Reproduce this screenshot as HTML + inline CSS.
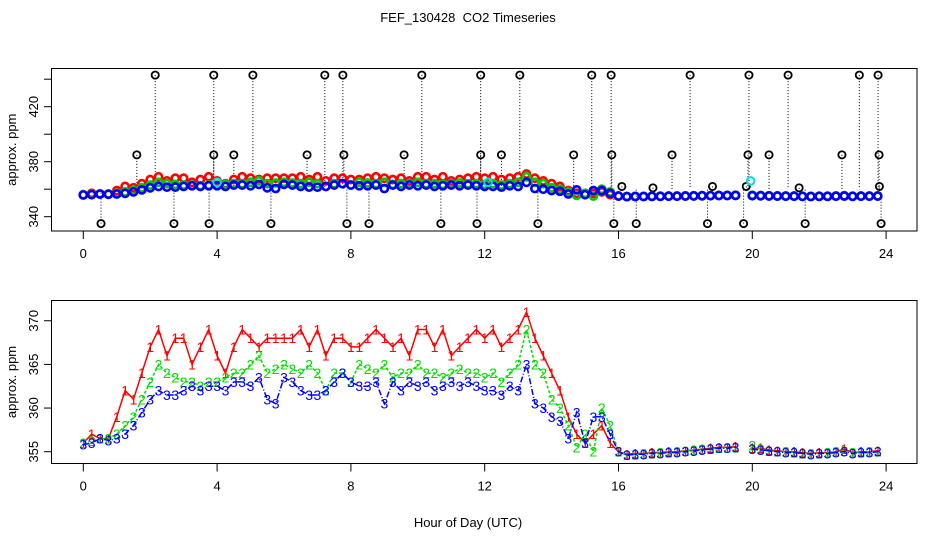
<!DOCTYPE html>
<html><head><meta charset="utf-8"><style>
body{margin:0;background:#fff}
svg{display:block;font-family:"Liberation Sans",sans-serif}
</style></head><body>
<svg id="c" width="936" height="540" viewBox="0 0 936 540">
<rect width="936" height="540" fill="#fff"/>
<text x="468" y="22" text-anchor="middle" font-size="13" style="white-space:pre">FEF_130428  CO2 Timeseries</text>
<text x="468" y="527" text-anchor="middle" font-size="13">Hour of Day (UTC)</text>
<g id="topPanel"></g>
<g id="botPanel"></g>
</svg>
<script>
const s1Head=[356,357,356.5,356.5,359,362,361,364,367,369,366,368,368,365,367,369,366,364,367,369,368,367,368,368,368,368,369,367,369,366,368,368,367,367,368,369,368,367,368,366,369,369,367,369,366,367,368,369,368,369,367,368,369,371,368,366,364,362,359,357,356,357,358,356,355];
const s2Head=[356,356.2,356.5,356.5,357,358,359,361,363,365,364,363.5,363,363,362.5,363,363,363.5,364,364,365,366,364,364.5,365,364.5,364,365,364,362,364,364,363,365,364.5,364,365,363.5,364,364,365,364,364,363.5,364,364.5,364,364,363.5,364,363,364,365,369,365,364,361,360,358,355.5,357,355,360,358,355];
const s3Head=[355.8,356,356.5,356.3,356.5,357,358,359.5,361,362,361.5,361.5,362,362.5,362,362.5,362.5,362,363,363,362.5,363.5,361,360.5,363.5,363,362,361.5,361.5,362,363,364,363,362.5,362.5,363,360.5,363,362,363,362.5,363,362,362.5,363,362.5,363,362.5,362,362,361.5,362.5,362,365,360.5,360,359,358.5,356.5,359.5,356,359,359,357,355];
const s1Tail=[354.7,354.8,354.8,354.9,354.9,355,355,355.1,355.2,355.3,355.4,355.5,355.5,355.6,null,355.4,355.4,355.2,355.1,355,355,354.9,354.8,354.9,354.9,355,355.3,354.9,355,355,355.1];
const s2Tail=[354.6,354.7,354.8,354.8,354.9,354.9,355,355.1,355.2,355.3,355.3,355.4,355.5,355.5,null,355.7,355.3,355.1,355,355,354.9,354.8,354.8,354.8,354.9,355,355.1,354.9,354.9,355,355];
const s3Tail=[354.6,354.7,354.7,354.8,354.8,354.9,354.9,355,355.1,355.2,355.3,355.4,355.4,355.5,null,355.3,355.2,355.1,355,354.9,354.9,354.8,354.7,354.8,354.8,354.9,355,354.8,354.9,354.9,355];
const outlierHours=[2.15,3.9,5.07,7.22,7.76,10.12,11.88,13.05,15.2,15.78,18.14,19.9,21.07,23.2,23.76,1.6,3.9,4.5,6.69,7.79,9.59,11.88,12.5,14.66,15.8,17.6,19.87,20.5,22.68,23.79,0.53,2.71,3.76,5.61,7.88,8.54,10.69,11.77,13.59,15.86,16.53,18.66,19.74,21.58,23.85,16.1,17.03,18.81,19.82,21.4,23.8];
const outlierValues=[443,443,443,443,443,443,443,443,443,443,443,443,443,443,443,385,385,385,385,385,385,385,385,385,385,385,385,385,385,385,335,335,335,335,335,335,335,335,335,335,335,335,335,335,335,362,361,362,362,361,362];
const cyanHours=[4.0,12.1,19.95];
const cyanValues=[365,365,366];
const xTicks=[0,4,8,12,16,20,24];
const topTicks=[340,360,380,400,420,440];
const topTickLabels=["340","","380","","420",""];
const botTicks=[355,360,365,370];
const botTickLabels=["355","360","365","370"];

const hours=[];for(let h=0;h<=16.0001;h+=0.25)hours.push(h);for(let h=16.25;h<=23.7501;h+=0.25)hours.push(h);
const S1=s1Head.concat(s1Tail),S2=s2Head.concat(s2Tail),S3=s3Head.concat(s3Tail);
const NS="http://www.w3.org/2000/svg";
function mk(p,t,a){const e=document.createElementNS(NS,t);for(const k in a)e.setAttribute(k,a[k]);p.appendChild(e);return e;}
const X=h=>83.3+h*33.45;
const Yt=v=>216.7-(v-340)*1.375;
const Yb=v=>451.7-(v-355)*8.73;
const topG=document.getElementById('topPanel'),botG=document.getElementById('botPanel');

function frame(g,y0,y1,yTicks,yLabels,Y,name){
  const b=mk(g,'rect',{x:51.5,y:y0,width:865.5,height:y1-y0,fill:'none',stroke:'#000','stroke-width':1});
  
  
  mk(g,'line',{x1:X(0),x2:X(24),y1:y1,y2:y1,stroke:'#000'});
  xTicks.forEach(t=>{
    mk(g,'line',{x1:X(t),x2:X(t),y1:y1,y2:y1+8,stroke:'#000'});
    const tx=mk(g,'text',{x:X(t),y:y1+27,'text-anchor':'middle','font-size':13});
    tx.textContent=t;
    
    
  });
  yTicks.forEach((t,i)=>{
    mk(g,'line',{x1:44,x2:51.5,y1:Y(t),y2:Y(t),stroke:'#000'});
    if(yLabels[i]){
      const tx=mk(g,'text',{x:0,y:0,'text-anchor':'middle','font-size':13,transform:`translate(38,${Y(t)}) rotate(-90)`});
      tx.textContent=yLabels[i];
      
      
    }
  });
  const yl=mk(g,'text',{x:0,y:0,'text-anchor':'middle','font-size':13,transform:`translate(16,${(y0+y1)/2}) rotate(-90)`});
  yl.textContent='approx. ppm';
  
  
}
frame(topG,68.5,231,topTicks,topTickLabels,Yt,'top');
frame(botG,300.5,463.5,botTicks,botTickLabels,Yb,'bottom');

outlierHours.forEach((h,i)=>{
  const v=outlierValues[i];
  mk(topG,'line',{x1:X(h),x2:X(h),y1:Yt(v),y2:Yt(360),stroke:'#000','stroke-dasharray':'1,2'});
  const c=mk(topG,'circle',{cx:X(h),cy:Yt(v),r:3.6,fill:'none',stroke:'#000','stroke-width':1.8});
  
  
});
[[S1,'#ff0000'],[S2,'#00cc00'],[S3,'#0000ff']].forEach(([s,col],k)=>{
  const g=mk(topG,'g',{});
  
  
  s.forEach((v,i)=>{
    if(v==null)return;
    const c=mk(g,'circle',{cx:X(hours[i]),cy:Yt(v),r:3.6,fill:'none',stroke:col,'stroke-width':2.6});
    
    
  });
});
cyanHours.forEach((h,i)=>{
  const c=mk(topG,'circle',{cx:X(h),cy:Yt(cyanValues[i]),r:3.8,fill:'none',stroke:'#00e0e0','stroke-width':2});
  
  
});
[[S1,'#ff0000','1',''],[S2,'#00dd00','2','3,2'],[S3,'#0000ff','3','6,2,1,2']].forEach(([s,col,lab,dash])=>{
  const g=mk(botG,'g',{});
  
  
  let d='',pen=false;
  s.forEach((v,i)=>{
    if(v==null){pen=false;return;}
    d+=(pen?'L':'M')+X(hours[i]).toFixed(1)+','+Yb(v).toFixed(1);pen=true;
  });
  const p=mk(g,'path',{d:d,fill:'none',stroke:col,'stroke-width':1.5,'stroke-dasharray':dash});
  
  
  s.forEach((v,i)=>{
    if(v==null)return;
    const t=mk(g,'text',{x:X(hours[i]),y:Yb(v)+5,'text-anchor':'middle','font-size':14,fill:col});
    t.textContent=lab;
    
    
  });
});
</script>
</body></html>
